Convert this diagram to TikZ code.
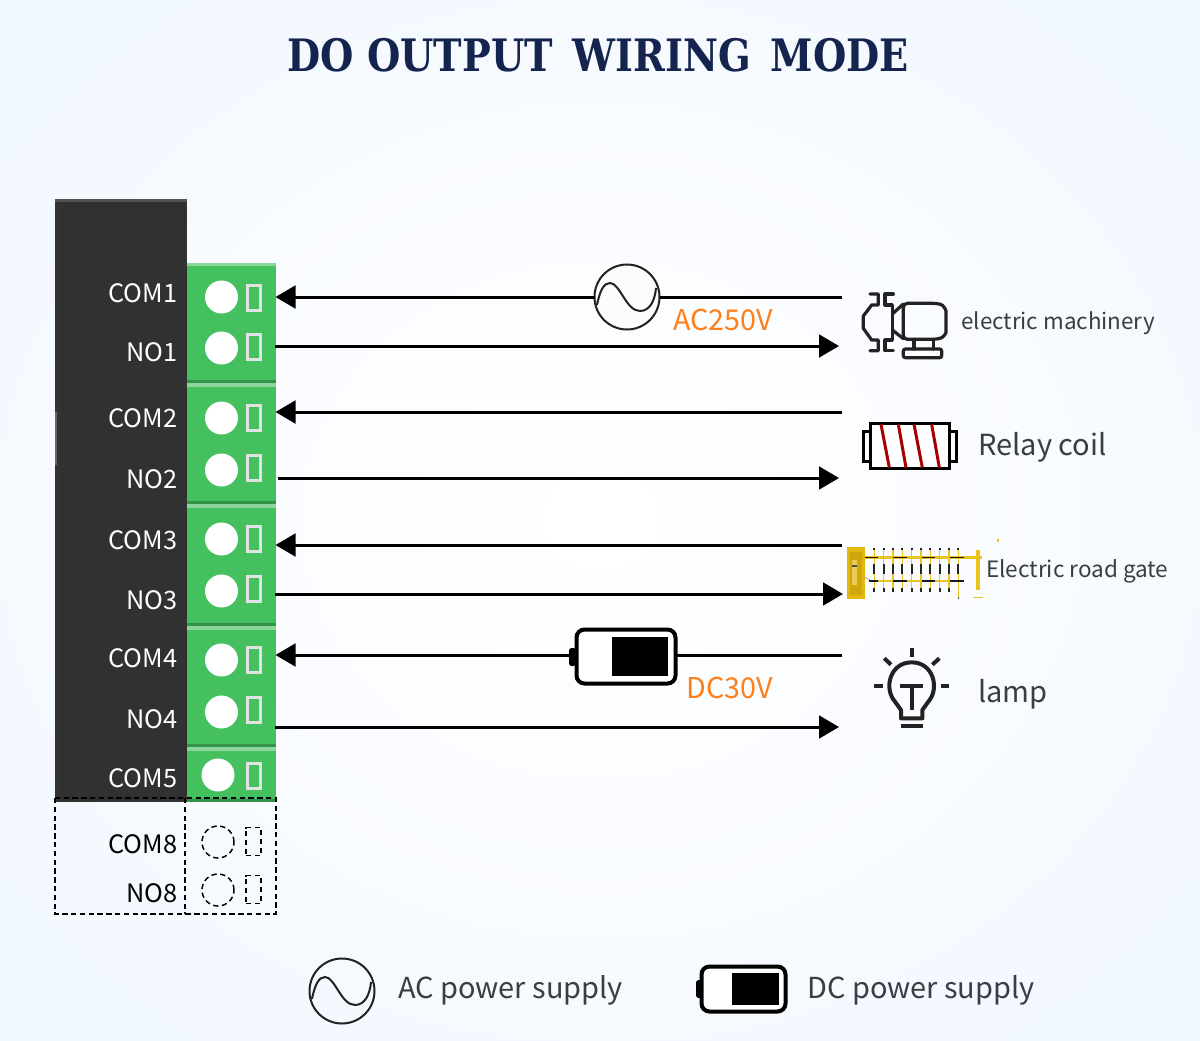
\documentclass[tikz,border=0pt]{standalone}
\usepackage{fontspec}
\setmainfont{Noto Sans CJK SC}
\newfontfamily\titlefont{DejaVu Serif}
\usetikzlibrary{arrows.meta}
\definecolor{pagemid}{HTML}{FAFCFF}
\definecolor{pagesoft}{HTML}{F0F7FF}
\definecolor{pageedge}{HTML}{E9F3FE}
\pgfdeclareradialshading{pagebg}{\pgfpoint{0bp}{0bp}}{color(0bp)=(white); color(15bp)=(pagemid); color(35bp)=(pagesoft); color(50bp)=(pageedge)}
\definecolor{termgreen}{HTML}{44C05E}
\definecolor{termhigh}{HTML}{8AD69B}
\definecolor{termlow}{HTML}{33934A}
\definecolor{blockdark}{HTML}{313131}
\definecolor{pingray}{HTML}{E2E2E2}
\definecolor{iconink}{HTML}{222222}
\definecolor{labelink}{HTML}{3A3D42}
\definecolor{ratingorange}{HTML}{FF7F1A}
\definecolor{titleblue}{HTML}{14244E}
\definecolor{gategold}{HTML}{EBC31E}
\definecolor{gatebox}{HTML}{E3B80E}
\definecolor{gateinner}{HTML}{CFA60C}
\definecolor{coilred}{HTML}{A80000}
\def\px{.75pt}
\tikzset{
  termblock/.style={fill=termgreen,inner sep=0pt,outer sep=0pt,minimum width=89*\px},
  hole/.style={circle,fill=white,inner sep=0pt,outer sep=0pt,minimum size=33*\px},
  pinbox/.style={draw=pingray,line width=2.25pt,inner sep=0pt,outer sep=0pt,minimum width=13*\px,minimum height=25*\px},
  dashline/.style={line width=1.1pt,dash pattern=on 4pt off 2.6pt},
  deadhole/.style={circle,draw,dashline,inner sep=0pt,outer sep=0pt,minimum size=32*\px},
  deadpin/.style={draw,dashline,inner sep=0pt,outer sep=0pt,minimum width=15*\px,minimum height=28*\px},
  termtext/.style={anchor=base east,inner sep=0pt,font=\fontsize{19}{20}\selectfont},
  wire/.style={line width=2.25pt,black},
  wiretip/.style={wire,-{Triangle[length=15pt,width=17pt]}},
  acsign/.style={circle,draw=iconink,line width=1.5pt,fill=white!60!blue!3,inner sep=0pt,outer sep=0pt,minimum size=65*\px},
  acwave/.style={draw=iconink,line width=1.5pt},
  battbody/.style={draw=black,line width=3pt,rounded corners=6pt,fill=white,inner sep=0pt,outer sep=0pt},
  rating/.style={anchor=base west,inner sep=0pt,text=ratingorange,font=\fontsize{21.5}{24}\selectfont},
  loadtext/.style={anchor=base west,inner sep=0pt,text=labelink},
  iconline/.style={draw=iconink,line width=2.4pt,line join=round,line cap=round}
}
\begin{document}
\begin{tikzpicture}[x=.75pt,y=-.75pt]
\useasboundingbox (0,0) rectangle (1200,1040);
\shade[shading=pagebg] (-1,-1) rectangle (1201,1041);

\node (title) at (598,55) [text=titleblue,xscale=.857,font=\titlefont\bfseries\fontsize{33.5}{36}\selectfont] {DO OUTPUT \,WIRING \,MODE};

% housing
\node (housing) at (121,500.5) [fill=blockdark,inner sep=0pt,outer sep=0pt,minimum width=132*\px,minimum height=603*\px] {};
\fill[black!80] (55,199) rectangle (59,802);
\fill[black!68] (55,199) rectangle (187,201.5);
\fill[black!60] (55,412) rectangle (56.5,465);

% terminal blocks
\node (blk1) at (231.5,322.5) [termblock,minimum height=119*\px] {};
\node (blk2) at (231.5,444) [termblock,minimum height=118*\px] {};
\node (blk3) at (231.5,565.5) [termblock,minimum height=119*\px] {};
\node (blk4) at (231.5,687) [termblock,minimum height=118*\px] {};
\node (blk5) at (231.5,775) [termblock,minimum height=52*\px] {};
\fill[termhigh] (187,263) rectangle (276,266);
\fill[termhigh] (187,382) rectangle (276,387);
\fill[termhigh] (187,503) rectangle (276,508);
\fill[termhigh] (187,625) rectangle (276,630);
\fill[termhigh] (187,746) rectangle (276,751);
\fill[termlow] (187,379.5) rectangle (276,382.5);
\fill[termlow] (187,500.5) rectangle (276,503.5);
\fill[termlow] (187,622.5) rectangle (276,625.5);
\fill[termlow] (187,743.5) rectangle (276,746.5);
\fill[termlow] (187,798.5) rectangle (276,801.5);

\node (h1a) at (221.5,297) [hole] {};
\node (h1b) at (221.5,348) [hole] {};
\node (h2a) at (221.5,418) [hole] {};
\node (h2b) at (221.5,470) [hole] {};
\node (h3a) at (221.5,539) [hole] {};
\node (h3b) at (221.5,591) [hole] {};
\node (h4a) at (221.5,660) [hole] {};
\node (h4b) at (221.5,712) [hole] {};
\node (h5a) at (218,775) [hole] {};

\node (p1a) at (254,297.5) [pinbox] {};
\node (p1b) at (254,346.5) [pinbox] {};
\node (p2a) at (254,418) [pinbox] {};
\node (p2b) at (254,468) [pinbox] {};
\node (p3a) at (254,539) [pinbox] {};
\node (p3b) at (254,589) [pinbox] {};
\node (p4a) at (254,660) [pinbox] {};
\node (p4b) at (254,710) [pinbox] {};
\node (p5a) at (254,776) [pinbox] {};

\node (com1) at (177.5,302) [termtext,text=white] {COM1};
\node (no1) at (177.5,361) [termtext,text=white] {NO1};
\node (com2) at (177.5,427) [termtext,text=white] {COM2};
\node (no2) at (177.5,488) [termtext,text=white] {NO2};
\node (com3) at (177.5,549) [termtext,text=white] {COM3};
\node (no3) at (177.5,609) [termtext,text=white] {NO3};
\node (com4) at (177.5,667) [termtext,text=white] {COM4};
\node (no4) at (177.5,728) [termtext,text=white] {NO4};
\node (com5) at (177.5,787) [termtext,text=white] {COM5};
\node (com8) at (177.5,853) [termtext,text=black] {COM8};
\node (no8) at (177.5,902) [termtext,text=black] {NO8};

% unused terminals
\draw[dashline] (55,798) rectangle (276,914);
\draw[dashline] (185,798) -- (185,914);
\node (h8a) at (218,842) [deadhole] {};
\node (h8b) at (218,890) [deadhole] {};
\node (p8a) at (253.5,841.5) [deadpin] {};
\node (p8b) at (253.5,889.5) [deadpin] {};

% wire ends
\coordinate (pin1a) at (275.5,297);
\coordinate (pin1b) at (275,346);
\coordinate (pin2a) at (275.5,412);
\coordinate (pin2b) at (278,478);
\coordinate (pin3a) at (275.5,545);
\coordinate (pin3b) at (275,594);
\coordinate (pin4a) at (275.5,655);
\coordinate (pin4b) at (275,727);
\coordinate (load1a) at (842,297);
\coordinate (load1b) at (839,346);
\coordinate (load2a) at (842,412);
\coordinate (load2b) at (839,478);
\coordinate (load3a) at (842,545);
\coordinate (load3b) at (843,594);
\coordinate (load4a) at (842,655);
\coordinate (load4b) at (839,727);

% supplies in the loops
\node (acsrc) at (627,297) [acsign] {};
\draw[acwave] (597,305) .. controls (600,290) and (604,283) .. (610,283) .. controls (620,283) and (626,311) .. (640,311) .. controls (650,311) and (655,300) .. (656,288);
\node (dcsrc) at (626,656.5) [battbody,minimum width=99*\px,minimum height=54*\px] {};
\node (dcfill) at (640,656.5) [fill=black,inner sep=0pt,outer sep=0pt,minimum width=56*\px,minimum height=39*\px] {};
\fill[black,rounded corners=2pt] (569,648) rectangle (576,666);

\draw[wire] (load1a) -- (acsrc);
\draw[wiretip] (acsrc) -- (pin1a);
\draw[wiretip] (pin1b) -- (load1b);
\draw[wiretip] (load2a) -- (pin2a);
\draw[wiretip] (pin2b) -- (load2b);
\draw[wiretip] (load3a) -- (pin3a);
\draw[wiretip] (pin3b) -- (load3b);
\draw[wire] (load4a) -- (load4a -| dcsrc.east);
\draw[wiretip] (dcsrc.west |- pin4a) ++(-6,0) -- (pin4a);
\draw[wiretip] (pin4b) -- (load4b);

\node (ac250) at (673,330) [rating] {AC250V};
\node (dc30) at (686.5,698) [rating] {DC30V};

% motor
\begin{scope}[shift={(840,280)},x=.25pt,y=-.25pt]
\draw[iconline] (90,42) -- (115,42) -- (115,75) -- (95,75) -- (70,108) -- (70,145) -- (95,180) -- (115,180) -- (115,212) -- (90,212);
\draw[iconline] (160,42) -- (135,42) -- (135,75) -- (157,75) -- (157,180) -- (135,180) -- (135,212) -- (160,212);
\draw[iconline,rounded corners=3pt] (190,70) -- (290,70) .. controls (310,75) and (318,90) .. (318,105) -- (318,145) .. controls (318,160) and (310,172) .. (290,178) -- (190,178) -- cycle;
\draw[iconline] (157,102) -- (190,72);
\draw[iconline] (157,150) -- (190,176);
\draw[iconline] (222,178) -- (222,207);
\draw[iconline] (280,178) -- (280,207);
\draw[iconline,rounded corners=1.5pt] (190,207) rectangle (305,233);
\end{scope}
\node (motortxt) at (961,329) [loadtext,font=\fontsize{16.8}{20}\selectfont] {electric machinery};

% coil
\begin{scope}[shift={(840,280)},x=.25pt,y=-.25pt]
\draw[black,line width=2.25pt,fill=white!85!blue!3] (70,453) rectangle (92,545);
\draw[black,line width=2.25pt,fill=white!85!blue!3] (328,453) rectangle (348,545);
\draw[black,line width=2.25pt,fill=white!85!blue!3] (92,430) rectangle (328,566);
\draw[coilred,line width=2.25pt] (123,433) -- (148,563);
\draw[coilred,line width=2.25pt] (175,433) -- (198,563);
\draw[coilred,line width=2.25pt] (222,433) -- (247,563);
\draw[coilred,line width=2.25pt] (275,433) -- (298,563);
\end{scope}
\node (coiltxt) at (978,455) [loadtext,font=\fontsize{21.8}{24}\selectfont] {Relay coil};

% road gate
\begin{scope}[shift={(840,535)},x=.25pt,y=-.25pt]
\fill[gatebox] (20,37) rectangle (75,193);
\fill[gateinner] (30,50) rectangle (65,180);
\fill[gatebox!70!white] (37,75) rectangle (51,150);
\fill[black!70] (36,90) rectangle (52,96);
\fill[gategold] (75,62) rectangle (426,73);
\fill[gategold] (408,45) rectangle (419,165);
\draw[gategold,line width=1.2pt] (88,138) -- (372,138);
\draw[gategold,line width=1.2pt] (103,38) -- (103,170);
\draw[gategold,line width=1.2pt] (131,38) -- (131,170);
\draw[gategold,line width=1.2pt] (159,38) -- (159,170);
\draw[gategold,line width=1.2pt] (187,38) -- (187,170);
\draw[gategold,line width=1.2pt] (215,38) -- (215,170);
\draw[gategold,line width=1.2pt] (243,38) -- (243,170);
\draw[gategold,line width=1.2pt] (271,38) -- (271,170);
\draw[gategold,line width=1.2pt] (299,38) -- (299,170);
\draw[gategold,line width=1.2pt] (327,38) -- (327,170);
\draw[gategold,line width=1.2pt] (355,38) -- (355,188);
\draw[black!85,line width=1.5pt] (103,87) -- (103,118) (131,87) -- (131,118) (159,87) -- (159,118) (187,87) -- (187,118) (215,87) -- (215,118) (243,87) -- (243,118) (271,87) -- (271,118) (299,87) -- (299,118) (327,87) -- (327,118) (355,87) -- (355,118);
\draw[black!85,line width=1.5pt] (103,160) -- (103,170) (131,160) -- (131,170) (159,160) -- (159,170) (187,160) -- (187,170) (215,160) -- (215,170) (243,160) -- (243,170) (271,160) -- (271,170) (299,160) -- (299,170) (327,160) -- (327,170);
\draw[black!85,line width=1.5pt] (103,38) -- (103,45) (131,38) -- (131,45) (159,38) -- (159,45) (187,38) -- (187,45) (215,38) -- (215,45) (243,38) -- (243,45) (271,38) -- (271,45) (299,38) -- (299,45) (327,38) -- (327,45) (355,38) -- (355,45);
\draw[black!90,line width=1pt] (75,67) -- (113,67) (160,67) -- (200,67) (246,67) -- (286,67) (331,67) -- (372,67);
\draw[black!90,line width=1pt] (88,138) -- (113,138) (160,138) -- (200,138) (246,138) -- (286,138) (331,138) -- (372,138);
\draw[black!60,line width=.3pt] (75,127) -- (90,135);
\fill[black!70] (353,186) rectangle (358,191);
\fill[gategold] (400,187) rectangle (428,190);
\fill[gategold] (472,12) rectangle (476,22);
\end{scope}
\node (gatetxt) at (986,577) [loadtext,font=\fontsize{16.9}{20}\selectfont] {Electric road gate};

% lamp
\begin{scope}[shift={(840,530)},x=.25pt,y=-.25pt]
\draw[iconline,line width=3pt,line cap=butt] (183,565) -- (183,540) -- (165,515) .. controls (130,475) and (150,397) .. (215,397) .. controls (280,397) and (300,475) .. (265,515) -- (247,540) -- (247,565) -- cycle;
\draw[iconline,line width=3pt,line cap=butt] (183,587) -- (248,587);
\draw[iconline,line width=3pt,line cap=butt] (181,468) -- (250,468);
\draw[iconline,line width=3pt,line cap=butt] (215,468) -- (215,540);
\draw[iconline,line width=3pt,line cap=butt] (215,355) -- (215,380);
\draw[iconline,line width=3pt,line cap=butt] (133,385) -- (153,404);
\draw[iconline,line width=3pt,line cap=butt] (298,385) -- (277,404);
\draw[iconline,line width=3pt,line cap=butt] (103,467) -- (128,467);
\draw[iconline,line width=3pt,line cap=butt] (303,467) -- (328,467);
\end{scope}
\node (lamptxt) at (978,702) [loadtext,font=\fontsize{21.8}{24}\selectfont] {lamp};

% legend
\node (acleg) at (342,991) [acsign,fill=none] {};
\draw[acwave] (312,999) .. controls (315,984) and (319,977) .. (325,977) .. controls (335,977) and (341,1005) .. (355,1005) .. controls (365,1005) and (370,994) .. (371,982);
\node (acltxt) at (398,998) [loadtext,font=\fontsize{21.7}{24}\selectfont] {AC power supply};
\node (dcleg) at (743.5,989) [battbody,minimum width=84*\px,minimum height=45*\px] {};
\node (dclfill) at (755.5,989) [fill=black,inner sep=0pt,outer sep=0pt,minimum width=47*\px,minimum height=32*\px] {};
\fill[black,rounded corners=2pt] (696,980) rectangle (702,998);
\node (dcltxt) at (807,998) [loadtext,font=\fontsize{21.7}{24}\selectfont] {DC power supply};
\end{tikzpicture}
\end{document}
